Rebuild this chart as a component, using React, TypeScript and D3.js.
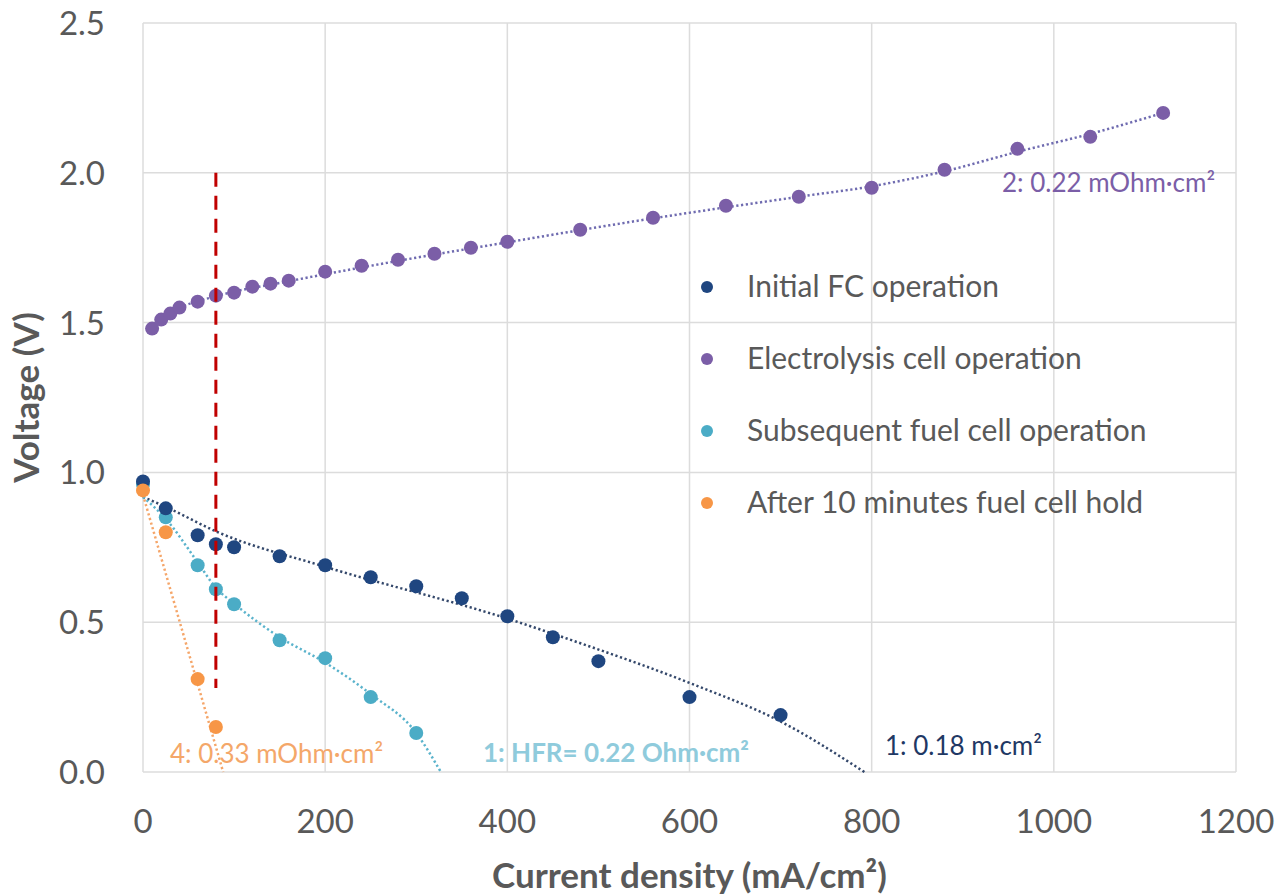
import React, { useEffect, useRef } from 'react';
import * as d3 from 'd3';

// measured points
const fcX = [0, 25, 60, 80, 100, 150, 200, 250, 300, 350, 400, 450, 500, 600, 700];
const fcV = [0.97, 0.88, 0.79, 0.76, 0.75, 0.72, 0.69, 0.65, 0.62, 0.58, 0.52, 0.45, 0.37, 0.25, 0.19];

const ecX = [10, 20, 30, 40, 60, 80, 100, 120, 140, 160, 200, 240, 280, 320, 360, 400, 480, 560, 640, 720, 800, 880, 960, 1040, 1120];
const ecV = [1.48, 1.51, 1.53, 1.55, 1.57, 1.59, 1.60, 1.62, 1.63, 1.64, 1.67, 1.69, 1.71, 1.73, 1.75, 1.77, 1.81, 1.85, 1.89, 1.92, 1.95, 2.01, 2.08, 2.12, 2.20];

const subX = [0, 25, 60, 80, 100, 150, 200, 250, 300];
const subV = [0.96, 0.85, 0.69, 0.61, 0.56, 0.44, 0.38, 0.25, 0.13];

const holdX = [0, 25, 60, 80];
const holdV = [0.94, 0.80, 0.31, 0.15];

// trendlines
const fcTrendX = [0, 25, 81, 200, 400, 481, 602, 701, 792];
const fcTrendV = [0.918, 0.885, 0.802, 0.685, 0.512, 0.429, 0.295, 0.167, 0];
const ecTrendX = [10, 20, 40, 80, 160, 280, 400, 560, 720, 800, 880, 960, 1040, 1120];
const ecTrendV = [1.485, 1.51, 1.548, 1.588, 1.638, 1.706, 1.768, 1.848, 1.92, 1.955, 2.005, 2.07, 2.13, 2.2];
const subTrendX = [0, 25, 60, 80, 100, 150, 200, 250, 300, 327];
const subTrendV = [0.918, 0.845, 0.70, 0.615, 0.562, 0.45, 0.365, 0.26, 0.13, 0];
const holdTrendX = [0, 88];
const holdTrendV = [0.925, 0];

const xTicks = [0, 200, 400, 600, 800, 1000, 1200];
const yTicks = [0, 0.5, 1.0, 1.5, 2.0, 2.5];

const legendLabels = [
    'Initial FC operation',
    'Electrolysis cell operation',
    'Subsequent fuel cell operation',
    'After 10 minutes fuel cell hold',
];

// reference line at 80 mA/cm², from 2.0 V down to 0.28 V
const refX = 80;
const refTop = 2.0;
const refBottom = 0.28;

const FONT = 'Lato, "Open Sans", sans-serif';
const colors = ['#1f4680', '#7b5ea7', '#4bacc6', '#f79646'];
const trendColors = ['#34486b', '#6f6bb0', '#5ab3cc', '#f5a66a'];

const zip = (xs: number[], ys: number[]) => xs.map((x, i) => [x, ys[i]] as [number, number]);

const App = () => {
    const ref = useRef<SVGSVGElement>(null);

    useEffect(() => {
        const svg = d3.select(ref.current);
        svg.selectAll('*').remove();

        const x = d3.scaleLinear().domain([0, 1200]).range([143, 1236]);
        const y = d3.scaleLinear().domain([0, 2.5]).range([772, 23]);

        // grid
        svg.append('g')
            .selectAll('line')
            .data(xTicks)
            .enter()
            .append('line')
            .attr('x1', (d) => x(d))
            .attr('x2', (d) => x(d))
            .attr('y1', y(0))
            .attr('y2', y(2.5))
            .attr('stroke', '#dcdcdc')
            .attr('stroke-width', 1.5);
        svg.append('g')
            .selectAll('line')
            .data(yTicks)
            .enter()
            .append('line')
            .attr('x1', x(0))
            .attr('x2', x(1200))
            .attr('y1', (d) => y(d))
            .attr('y2', (d) => y(d))
            .attr('stroke', '#dcdcdc')
            .attr('stroke-width', 1.5);

        // tick labels
        svg.append('g')
            .selectAll('text')
            .data(xTicks)
            .enter()
            .append('text')
            .attr('x', (d) => x(d))
            .attr('y', 833)
            .attr('text-anchor', 'middle')
            .attr('font-family', FONT)
            .attr('font-size', 33)
            .attr('fill', '#595959')
            .text((d) => String(d));
        svg.append('g')
            .selectAll('text')
            .data(yTicks)
            .enter()
            .append('text')
            .attr('x', 105)
            .attr('y', (d) => y(d) + 12)
            .attr('text-anchor', 'end')
            .attr('font-family', FONT)
            .attr('font-size', 33)
            .attr('fill', '#595959')
            .text((d) => d3.format('.1f')(d));

        // axis titles
        svg.append('text')
            .attr('x', (x(0) + x(1200)) / 2)
            .attr('y', 888)
            .attr('text-anchor', 'middle')
            .attr('font-family', FONT)
            .attr('font-weight', 'bold')
            .attr('font-size', 35)
            .attr('fill', '#595959')
            .text('Current density (mA/cm²)');
        svg.append('text')
            .attr('transform', `translate(39,${(y(0) + y(2.5)) / 2}) rotate(-90)`)
            .attr('text-anchor', 'middle')
            .attr('font-family', FONT)
            .attr('font-weight', 'bold')
            .attr('font-size', 35)
            .attr('fill', '#595959')
            .text('Voltage (V)');

        // trendlines
        const line = d3.line<[number, number]>()
            .x((d) => x(d[0]))
            .y((d) => y(d[1]))
            .curve(d3.curveMonotoneX);
        const trends = [
            zip(fcTrendX, fcTrendV),
            zip(ecTrendX, ecTrendV),
            zip(subTrendX, subTrendV),
            zip(holdTrendX, holdTrendV),
        ];
        trends.forEach((t, i) => {
            svg.append('path')
                .attr('d', line(t))
                .attr('fill', 'none')
                .attr('stroke', trendColors[i])
                .attr('stroke-width', 2.5)
                .attr('stroke-dasharray', '2.2,2.6');
        });

        // points
        const series = [
            zip(fcX, fcV),
            zip(ecX, ecV),
            zip(subX, subV),
            zip(holdX, holdV),
        ];
        // draw order: cyan and purple first, then dark blue, orange on top
        [1, 2, 0, 3].forEach((i) => {
            svg.append('g')
                .selectAll('circle')
                .data(series[i])
                .enter()
                .append('circle')
                .attr('cx', (d) => x(d[0]))
                .attr('cy', (d) => y(d[1]))
                .attr('r', 7)
                .attr('fill', colors[i]);
        });

        // red dashed marker
        svg.append('line')
            .attr('x1', x(refX))
            .attr('x2', x(refX))
            .attr('y1', y(refTop))
            .attr('y2', y(refBottom))
            .attr('stroke', '#c00000')
            .attr('stroke-width', 3)
            .attr('stroke-dasharray', '14,9');

        // annotations
        const notes = [
            { t: '2: 0.22 mOhm·cm²', px: 1002, py: 192, c: '#7b5ea7', w: 'normal' },
            { t: '1: 0.18 m·cm²', px: 885, py: 755, c: '#1f3864', w: 'normal' },
            { t: '1: HFR= 0.22 Ohm·cm²', px: 483, py: 762, c: '#8fcbdc', w: 'bold' },
            { t: '4: 0.33 mOhm·cm²', px: 170, py: 763, c: '#f4a769', w: 'normal' },
        ];
        svg.append('g')
            .selectAll('text')
            .data(notes)
            .enter()
            .append('text')
            .attr('x', (d) => d.px)
            .attr('y', (d) => d.py)
            .attr('font-family', FONT)
            .attr('font-size', 26)
            .attr('font-weight', (d) => d.w)
            .attr('fill', (d) => d.c)
            .text((d) => d.t);

        // legend
        const legend = svg.append('g')
            .selectAll('g')
            .data(legendLabels)
            .enter()
            .append('g')
            .attr('transform', (d, i) => `translate(707,${287 + i * 72})`);
        legend.append('circle')
            .attr('r', 6)
            .attr('fill', (d, i) => colors[i]);
        legend.append('text')
            .attr('x', 40)
            .attr('y', 10)
            .attr('font-family', FONT)
            .attr('font-size', 30)
            .attr('fill', '#595959')
            .text((d) => d);
    }, []);

    return (
        <svg
            ref={ref}
            width={1279}
            height={895}
            style={{ position: 'absolute', left: 0, top: 0, background: '#fff' }}
        />
    );
};

export default App;
